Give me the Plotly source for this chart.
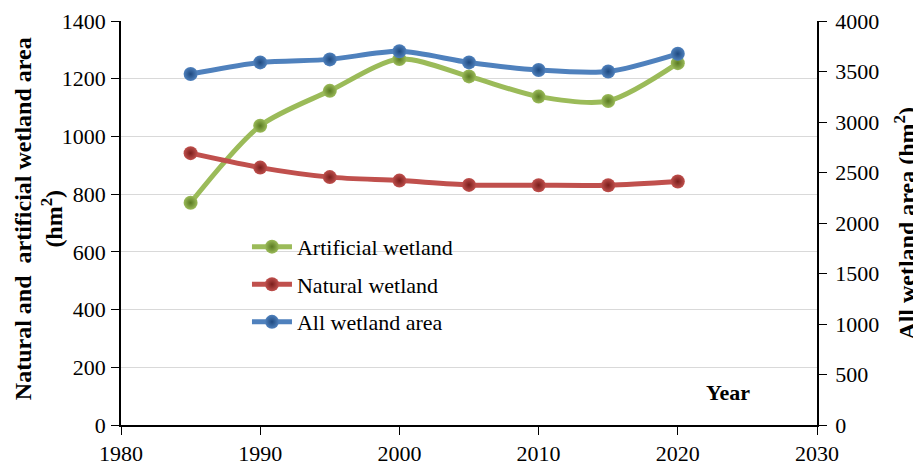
import plotly.graph_objects as go

years = [1985, 1990, 1995, 2000, 2005, 2010, 2015, 2020]
artificial = [770, 1037, 1158, 1268, 1208, 1138, 1123, 1254]
natural = [942, 892, 859, 847, 832, 831, 831, 844]
all_wetland = [3475, 3590, 3620, 3700, 3590, 3515, 3500, 3675]

FONT = "Liberation Serif, Times New Roman, serif"

series = [
    ("Artificial wetland", artificial, "#9BBB59", "#5a7a22", "y"),
    ("Natural wetland", natural, "#C0504D", "#7a1e1b", "y"),
    ("All wetland area", all_wetland, "#4F81BD", "#1f4a80", "y2"),
]

fig = go.Figure()
for name, vals, col, dark, ax in series:
    fig.add_trace(go.Scatter(
        x=years, y=vals, name=name, yaxis=ax, legendgroup=name,
        mode="lines+markers", line=dict(color=col, width=5, shape="spline", smoothing=0.8),
        marker=dict(size=14, color=col, line=dict(width=0),
                    gradient=dict(type="radial", color=dark)),
    ))

axis_common = dict(showline=True, linecolor="black", linewidth=1.5, ticks="outside", ticklen=8,
                   tickcolor="black", zeroline=False, tickfont=dict(size=22), automargin=False)

# page body has an 8px default margin, so the figure is sized to fit the 921x465 window
fig.update_layout(
    width=913, height=457,
    margin=dict(l=113, r=104, t=13, b=40),
    paper_bgcolor="white", plot_bgcolor="white",
    font=dict(family=FONT, size=22, color="black"),
    showlegend=True,
    legend=dict(x=0.181, y=0.493, xanchor="left", yanchor="top", bgcolor="rgba(0,0,0,0)",
                font=dict(size=22), tracegroupgap=6, itemwidth=40),
    xaxis=dict(range=[1980, 2030], dtick=10, showgrid=False, **axis_common),
    yaxis=dict(range=[0, 1400], dtick=200, showgrid=True, gridcolor="#d9d9d9", gridwidth=1,
               ticklabelstandoff=1, **axis_common),
    yaxis2=dict(range=[0, 4000], dtick=500, overlaying="y", side="right", showgrid=False,
                ticklabelstandoff=4, **axis_common),
    annotations=[
        dict(text="<b>Year</b>", x=2023.6, y=0.08, xref="x", yref="paper",
             showarrow=False, font=dict(size=22), xanchor="center", yanchor="middle"),
        dict(text="<b>Natural and\u00a0 artificial wetland area<br>(hm<sup>2</sup>)</b>",
             x=-0.1175, y=0.51, xref="paper", yref="paper", textangle=-90,
             showarrow=False, font=dict(size=24), xanchor="center", yanchor="middle"),
        dict(text="<b>All wetland area (hm<sup>2</sup>)</b>",
             x=1.126, y=0.5, xref="paper", yref="paper", textangle=-90,
             showarrow=False, font=dict(size=24), xanchor="center", yanchor="middle"),
    ],
)

fig.write_html("out.html")
